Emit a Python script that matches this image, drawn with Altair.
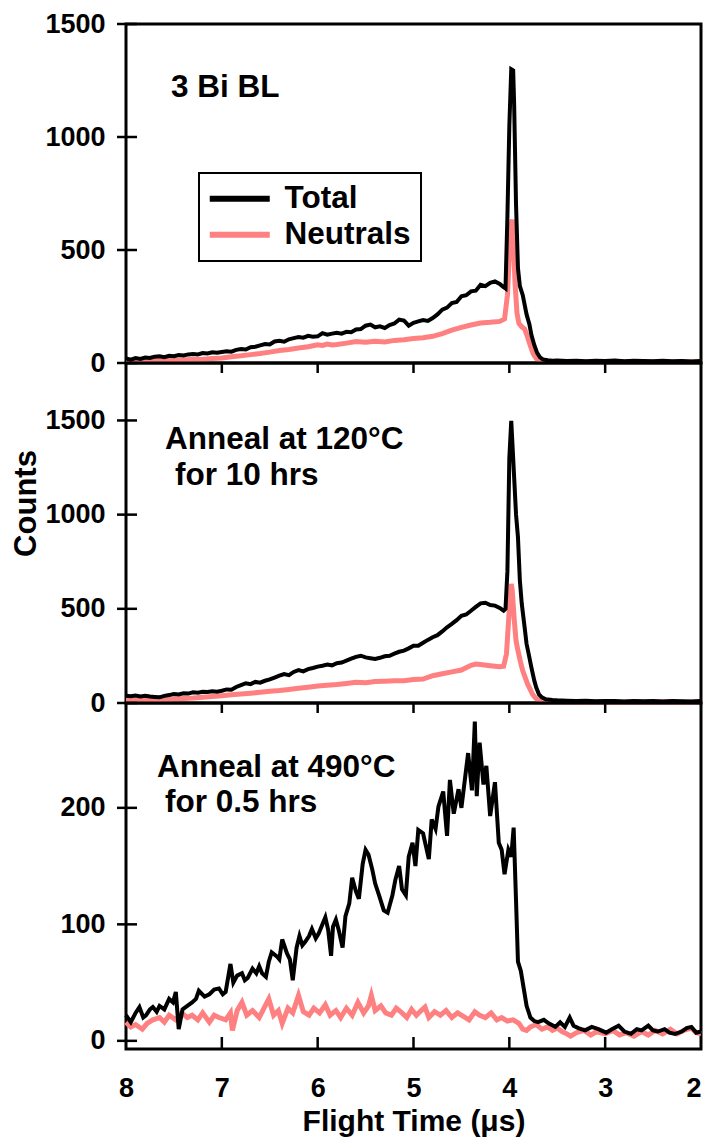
import altair as alt
import pandas as pd

FONT = "Liberation Sans"

series_names = ["Total", "Neutrals"]
series_colors = ["#000000", "#ff8080"]

x_tick_values = [8, 7, 6, 5, 4, 3, 2]
x_inner_ticks = [7, 6, 5, 4, 3]

p1_y_ticks = [0, 500, 1000, 1500]
p2_y_ticks = [0, 500, 1000, 1500]
p3_y_ticks = [0, 100, 200]
p1_y_domain = [0, 1500]
p2_y_domain = [0, 1805]
p3_y_domain = [-7, 290]

p1_labels = ["3 Bi BL"]
p2_labels = ["Anneal at 120°C", "for 10 hrs"]
p3_labels = ["Anneal at 490°C", "for 0.5 hrs"]

# ---------------- Panel 1 : 3 Bi BL ----------------
p1_total_t = [8.00, 7.95, 7.90, 7.85, 7.80, 7.75, 7.70, 7.65, 7.60, 7.55,
              7.50, 7.45, 7.40, 7.35, 7.30, 7.25, 7.20, 7.15, 7.10, 7.05,
              7.00, 6.95, 6.90, 6.85, 6.80, 6.75, 6.70, 6.65, 6.60, 6.55,
              6.50, 6.45, 6.40, 6.35, 6.30, 6.25, 6.20, 6.15, 6.10, 6.05,
              6.00, 5.95, 5.90, 5.85, 5.80, 5.75, 5.70, 5.65, 5.60, 5.55,
              5.50, 5.45, 5.40, 5.35, 5.30, 5.25, 5.20, 5.15, 5.10, 5.05,
              5.00, 4.95, 4.90, 4.85, 4.80, 4.75, 4.70, 4.65, 4.60, 4.55,
              4.50, 4.45, 4.40, 4.35, 4.30, 4.25, 4.20, 4.15, 4.10, 4.07,
              4.04, 4.02, 4.00, 3.98, 3.96, 3.95, 3.93, 3.91, 3.89, 3.86,
              3.82, 3.79, 3.77, 3.74, 3.71, 3.68, 3.65, 3.60, 3.55, 3.50,
              3.40, 3.30, 3.20, 3.10, 3.00, 2.90, 2.80, 2.70, 2.60, 2.50,
              2.40, 2.30, 2.20, 2.10, 2.00]
p1_total_v = [20, 15, 22, 18, 24, 22, 28, 30, 26, 32,
              30, 35, 33, 38, 40, 38, 44, 42, 47, 45,
              49, 52, 50, 58, 62, 60, 70, 72, 78, 84,
              82, 95, 98, 94, 105, 110, 115, 112, 120, 116,
              118, 132, 125, 130, 134, 130, 138, 136, 148, 150,
              165, 170, 158, 162, 155, 168, 175, 192, 188, 165,
              178, 184, 190, 186, 199, 215, 236, 245, 265, 270,
              295, 300, 317, 320, 346, 340, 355, 361, 350, 339,
              330, 650, 1050, 1300, 1295, 1150, 700, 420, 340, 300,
              215, 170, 125, 80, 45, 25, 16, 12, 10, 11,
              9, 10, 8, 10, 9, 11, 8, 10, 9, 8,
              10, 8, 9, 7, 9]

p1_neutral_t = [8.00, 7.90, 7.80, 7.70, 7.60, 7.50, 7.40, 7.30, 7.20, 7.10,
                7.00, 6.90, 6.80, 6.70, 6.60, 6.50, 6.40, 6.30, 6.20, 6.10,
                6.00, 5.95, 5.90, 5.85, 5.80, 5.70, 5.60, 5.50, 5.40, 5.30,
                5.20, 5.10, 5.00, 4.90, 4.80, 4.70, 4.60, 4.50, 4.40, 4.30,
                4.20, 4.10, 4.05, 4.02, 4.00, 3.98, 3.97, 3.96, 3.94, 3.92,
                3.90, 3.87, 3.84, 3.81, 3.78, 3.75, 3.72, 3.68, 3.60, 3.50,
                3.40, 3.30, 3.20, 3.10, 3.00, 2.90, 2.80, 2.70, 2.60, 2.50,
                2.40, 2.30, 2.20, 2.10, 2.00]
p1_neutral_v = [10, 8, 12, 10, 12, 11, 14, 16, 17, 20,
                22, 28, 32, 37, 42, 48, 55, 60, 66, 72,
                81, 78, 84, 80, 82, 88, 95, 92, 96, 93,
                100, 103, 108, 112, 118, 130, 145, 158, 168, 177,
                180, 184, 195, 300, 480, 620, 634, 560, 350, 220,
                175, 160, 150, 115, 75, 40, 20, 10, 6, 5,
                6, 5, 4, 6, 5, 4, 6, 5, 4, 6,
                5, 4, 5, 6, 5]

# ---------------- Panel 2 : Anneal 120 C ----------------
p2_total_t = [8.00, 7.95, 7.90, 7.85, 7.80, 7.75, 7.70, 7.65, 7.60, 7.55,
              7.50, 7.45, 7.40, 7.35, 7.30, 7.25, 7.20, 7.15, 7.10, 7.05,
              7.00, 6.95, 6.90, 6.85, 6.80, 6.75, 6.70, 6.65, 6.60, 6.55,
              6.50, 6.45, 6.40, 6.35, 6.30, 6.25, 6.20, 6.15, 6.10, 6.05,
              6.00, 5.95, 5.90, 5.85, 5.80, 5.75, 5.70, 5.65, 5.60, 5.55,
              5.50, 5.45, 5.40, 5.35, 5.30, 5.25, 5.20, 5.15, 5.10, 5.05,
              5.00, 4.95, 4.90, 4.85, 4.80, 4.75, 4.70, 4.65, 4.60, 4.55,
              4.50, 4.45, 4.40, 4.35, 4.30, 4.25, 4.20, 4.15, 4.10, 4.06,
              4.04, 4.02, 4.00, 3.98, 3.96, 3.93, 3.91, 3.89, 3.87, 3.84,
              3.82, 3.80, 3.77, 3.74, 3.72, 3.69, 3.66, 3.62, 3.55, 3.50,
              3.40, 3.30, 3.20, 3.10, 3.00, 2.90, 2.80, 2.70, 2.60, 2.50,
              2.40, 2.30, 2.20, 2.10, 2.00]
p2_total_v = [39, 36, 40, 35, 38, 34, 32, 30, 38, 42,
              48, 45, 52, 50, 57, 55, 60, 58, 62, 60,
              65, 72, 70, 85, 95, 105, 100, 112, 108, 118,
              125, 135, 145, 154, 148, 165, 175, 168, 180, 186,
              193, 198, 204, 200, 211, 215, 225, 235, 245, 251,
              242, 238, 234, 240, 248, 251, 262, 272, 278, 290,
              304, 304, 320, 335, 349, 360, 380, 402, 420, 440,
              463, 470, 490, 510, 529, 532, 520, 517, 505, 490,
              500, 700, 1300, 1498, 1300, 1000, 880, 650, 525, 400,
              313, 265, 189, 120, 83, 45, 30, 20, 16, 14,
              12, 10, 12, 9, 11, 10, 8, 11, 9, 10,
              8, 10, 9, 8, 10]

p2_neutral_t = [8.00, 7.90, 7.80, 7.70, 7.60, 7.50, 7.40, 7.30, 7.20, 7.10,
                7.00, 6.90, 6.80, 6.70, 6.60, 6.50, 6.40, 6.30, 6.20, 6.10,
                6.00, 5.90, 5.80, 5.70, 5.60, 5.50, 5.40, 5.30, 5.20, 5.10,
                5.00, 4.90, 4.80, 4.70, 4.60, 4.50, 4.40, 4.35, 4.30, 4.20,
                4.10, 4.06, 4.03, 4.00, 3.98, 3.97, 3.95, 3.93, 3.91, 3.88,
                3.86, 3.83, 3.81, 3.78, 3.76, 3.73, 3.70, 3.65, 3.60, 3.50,
                3.40, 3.30, 3.20, 3.10, 3.00, 2.90, 2.80, 2.70, 2.60, 2.50,
                2.40, 2.30, 2.20, 2.10, 2.00]
p2_neutral_v = [16, 14, 18, 16, 20, 21, 24, 26, 30, 34,
                39, 44, 48, 52, 57, 62, 66, 72, 78, 84,
                90, 94, 98, 104, 110, 108, 114, 116, 118, 118,
                125, 127, 145, 155, 165, 175, 200, 207, 204, 198,
                192, 195, 260, 500, 632, 600, 450, 330, 278, 210,
                171, 130, 101, 70, 48, 28, 16, 8, 6, 5,
                6, 5, 4, 6, 5, 4, 5, 6, 4, 5,
                6, 5, 4, 5, 6]

# ---------------- Panel 3 : Anneal 490 C ----------------
p3_total_t = [8.00, 7.95, 7.90, 7.86, 7.82, 7.79, 7.75, 7.72, 7.68, 7.65,
              7.60, 7.55, 7.51, 7.48, 7.45, 7.41, 7.36, 7.31, 7.27, 7.24,
              7.18, 7.13, 7.08, 7.03, 6.99, 6.96, 6.91, 6.88, 6.84, 6.79,
              6.76, 6.73, 6.68, 6.64, 6.61, 6.58, 6.54, 6.51, 6.48, 6.42,
              6.40, 6.37, 6.32, 6.29, 6.26, 6.22, 6.19, 6.16, 6.13, 6.09,
              6.06, 6.02, 5.99, 5.95, 5.92, 5.89, 5.86, 5.84, 5.81, 5.78,
              5.74, 5.71, 5.67, 5.64, 5.60, 5.57, 5.53, 5.50, 5.47, 5.43,
              5.40, 5.36, 5.31, 5.27, 5.22, 5.19, 5.15, 5.12, 5.08, 5.05,
              5.01, 4.98, 4.95, 4.90, 4.84, 4.81, 4.77, 4.74, 4.69, 4.65,
              4.62, 4.58, 4.53, 4.50, 4.46, 4.43, 4.39, 4.36, 4.34, 4.31,
              4.27, 4.24, 4.20, 4.15, 4.11, 4.08, 4.05, 4.01, 3.98, 3.955,
              3.93, 3.91, 3.88, 3.85, 3.82, 3.78, 3.74, 3.70, 3.64, 3.59,
              3.52, 3.47, 3.42, 3.37, 3.33, 3.28, 3.21, 3.14, 3.07, 2.99,
              2.93, 2.86, 2.80, 2.73, 2.67, 2.62, 2.55, 2.50, 2.45, 2.38,
              2.33, 2.27, 2.20, 2.15, 2.10, 2.05, 2.00]
p3_total_v = [22, 16, 24, 29, 20, 22, 27, 29, 25, 30,
              27, 36, 33, 42, 10, 27, 30, 33, 36, 43,
              38, 40, 44, 45, 40, 42, 66, 50, 56, 58,
              52, 54, 62, 58, 64, 58, 55, 68, 76, 72,
              70, 87, 75, 70, 52, 80, 90, 82, 85, 90,
              96, 88, 92, 100, 106, 95, 73, 98, 104, 95,
              80, 107, 118, 140, 128, 122, 152, 164, 160, 147,
              135, 125, 112, 110, 125, 138, 150, 130, 125, 158,
              170, 150, 181, 178, 156, 190, 182, 201, 214, 176,
              224, 195, 216, 200, 227, 247, 215, 274, 210, 256,
              220, 236, 193, 222, 170, 164, 143, 164, 158, 183,
              120, 68, 60, 45, 30, 20, 17, 16, 18, 15,
              12, 16, 12, 20, 13, 11, 9, 12, 10, 7,
              10, 13, 8, 6, 10, 9, 13, 9, 8, 10,
              7, 6, 8, 11, 12, 7, 8]

p3_neutral_t = [8.00, 7.95, 7.90, 7.83, 7.78, 7.72, 7.65, 7.60, 7.55, 7.48,
                7.42, 7.36, 7.31, 7.25, 7.20, 7.13, 7.08, 7.03, 6.96, 6.91,
                6.89, 6.84, 6.79, 6.74, 6.68, 6.61, 6.56, 6.51, 6.46, 6.41,
                6.37, 6.31, 6.26, 6.20, 6.15, 6.09, 6.04, 5.98, 5.92, 5.87,
                5.81, 5.76, 5.70, 5.64, 5.58, 5.52, 5.47, 5.44, 5.40, 5.34,
                5.29, 5.23, 5.18, 5.12, 5.07, 5.02, 4.97, 4.92, 4.88, 4.84,
                4.78, 4.72, 4.66, 4.60, 4.54, 4.48, 4.42, 4.36, 4.31, 4.25,
                4.19, 4.13, 4.08, 4.02, 3.96, 3.90, 3.86, 3.82, 3.78, 3.72,
                3.66, 3.60, 3.55, 3.50, 3.45, 3.40, 3.36, 3.30, 3.22, 3.15,
                3.09, 3.00, 2.92, 2.85, 2.78, 2.70, 2.62, 2.55, 2.48, 2.40,
                2.32, 2.25, 2.18, 2.10, 2.05, 2.00]
p3_neutral_v = [16, 12, 14, 10, 15, 18, 20, 16, 22, 18,
                24, 20, 22, 18, 24, 16, 22, 20, 18, 24,
                9, 26, 33, 22, 26, 20, 28, 36, 22, 26,
                15, 28, 24, 39, 25, 22, 28, 24, 31, 22,
                26, 20, 28, 22, 33, 24, 30, 39, 26, 30,
                24, 22, 28, 24, 20, 27, 22, 26, 29, 20,
                25, 22, 26, 20, 24, 21, 18, 25, 22, 20,
                24, 18, 20, 17, 18, 15, 10, 9, 12, 14,
                10, 12, 9, 11, 8, 6, 4, 7, 9, 5,
                8, 6, 9, 5, 7, 4, 8, 5, 9, 6,
                10, 6, 9, 11, 7, 6]


def series_frame(ts, vs, name):
    return pd.DataFrame({"t": ts, "counts": vs, "series": name})


W = 575
NOTE_SIZE = 31.5


def make_panel(total_df, neutral_df, ydom, yticks, h, labels, label_pos,
               show_legend=False, counts_title=False, bottom_axis=False, top_ticks=False):
    xs = alt.Scale(domain=[2, 8], reverse=True, nice=False, zero=False)
    ys = alt.Scale(domain=ydom, nice=False, zero=False)

    if bottom_axis:
        xaxis = alt.Axis(values=x_tick_values, format="d", ticks=False, tickSize=0, domain=False,
                         grid=False, labelFlush=False,
                         labelAlign={"condition": {"test": "datum.value == 2", "value": "right"},
                                     "value": "center"},
                         labelFont=FONT, labelFontSize=27,
                         labelFontWeight="bold", labelColor="black", labelPadding=26,
                         title="Flight Time (μs)", titleFont=FONT, titleFontSize=30,
                         titleFontWeight="bold", titleColor="black", titlePadding=5)
    else:
        xaxis = None

    ykw = dict(values=yticks, format="d", ticks=False, tickSize=0, domain=False, grid=False,
               labelFont=FONT, labelFontSize=27, labelFontWeight="bold", labelColor="black",
               labelPadding=21)
    if counts_title:
        yaxis = alt.Axis(title="Counts", titleFont=FONT, titleFontSize=31, titleFontWeight="bold",
                         titleColor="black", titleAngle=270, titleAlign="center",
                         titleBaseline="alphabetic", titleX=-91, titleY=140, **ykw)
    else:
        yaxis = alt.Axis(title=None, **ykw)

    if show_legend:
        leg = alt.Legend(title=None, orient="none", legendX=73, legendY=149, direction="vertical",
                         symbolType="M-2.5,0H2.5", symbolSize=576, symbolStrokeWidth=6,
                         symbolOffset=15, labelFont=FONT, labelFontSize=NOTE_SIZE,
                         labelFontWeight="bold", labelColor="black", labelOffset=29, padding=10,
                         rowPadding=3, strokeColor="black", fillColor="white")
    else:
        leg = None

    color = alt.Color("series:N", scale=alt.Scale(domain=series_names, range=series_colors),
                      legend=leg)

    neutral_line = alt.Chart(neutral_df).mark_line(strokeWidth=5).encode(
        x=alt.X("t:Q", scale=xs, axis=xaxis),
        y=alt.Y("counts:Q", scale=ys, axis=yaxis),
        color=color)
    total_line = alt.Chart(total_df).mark_line(strokeWidth=4).encode(
        x=alt.X("t:Q", scale=xs, axis=xaxis),
        y=alt.Y("counts:Q", scale=ys, axis=yaxis),
        color=color)

    ytick_rules = alt.Chart(pd.DataFrame({"counts": yticks})).mark_rule(
        color="black", strokeWidth=2.5).encode(
        y=alt.Y("counts:Q", scale=ys, axis=yaxis), x=alt.value(-9), x2=alt.value(11))

    layers = [neutral_line, total_line, ytick_rules]

    if top_ticks:
        layers.append(alt.Chart(pd.DataFrame({"t": x_inner_ticks})).mark_rule(
            color="black", strokeWidth=2.5).encode(
            x=alt.X("t:Q", scale=xs, axis=xaxis), y=alt.value(0), y2=alt.value(10)))
    if bottom_axis:
        layers.append(alt.Chart(pd.DataFrame({"t": x_inner_ticks})).mark_rule(
            color="black", strokeWidth=2.5).encode(
            x=alt.X("t:Q", scale=xs, axis=xaxis), y=alt.value(h - 12), y2=alt.value(h)))

    for text, (px, py) in zip(labels, label_pos):
        layers.append(alt.Chart(pd.DataFrame({"label": [text]})).mark_text(
            align="left", baseline="middle", font=FONT, fontSize=NOTE_SIZE, fontWeight="bold",
            color="black").encode(text="label:N", x=alt.value(px), y=alt.value(py)))

    return alt.layer(*layers).properties(width=W, height=h)


p1 = make_panel(series_frame(p1_total_t, p1_total_v, "Total"),
                series_frame(p1_neutral_t, p1_neutral_v, "Neutrals"),
                p1_y_domain, p1_y_ticks, 339, p1_labels, [(45, 64)], show_legend=True)
p2 = make_panel(series_frame(p2_total_t, p2_total_v, "Total"),
                series_frame(p2_neutral_t, p2_neutral_v, "Neutrals"),
                p2_y_domain, p2_y_ticks, 340, p2_labels, [(39, 77), (49, 113)],
                counts_title=True, top_ticks=True)
p3 = make_panel(series_frame(p3_total_t, p3_total_v, "Total"),
                series_frame(p3_neutral_t, p3_neutral_v, "Neutrals"),
                p3_y_domain, p3_y_ticks, 346, p3_labels, [(31, 65), (39, 100)],
                bottom_axis=True, top_ticks=True)

chart = alt.vconcat(p1, p2, p3, spacing=0, bounds="flush").resolve_scale(
    color="independent", y="independent", x="independent").resolve_legend(
    color="independent").properties(
    padding={"left": 0, "top": 0, "right": -6, "bottom": 0}).configure_view(
    stroke="black", strokeWidth=3).configure_axis(grid=False).configure_legend(strokeWidth=2)

chart.save("out.html", embed_options={"renderer": "svg", "actions": False})
